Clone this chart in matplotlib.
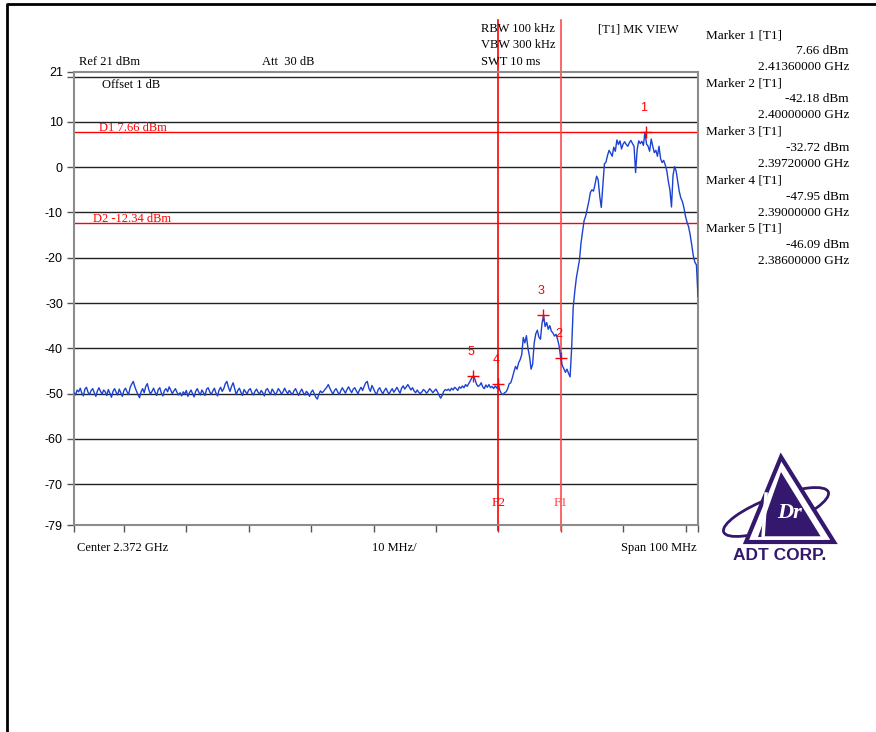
import matplotlib.pyplot as plt
import numpy as np
from matplotlib.patches import Polygon, Ellipse

plt.rcParams['font.family'] = ['Liberation Serif', 'DejaVu Serif']

# sweep settings
center_ghz = 2.372
span_mhz = 100
step_mhz = 0.25
ref_dbm = 21
bottom_dbm = -79

# trace level (dBm), one value every 0.25 MHz from 2.322 GHz
trace_dbm = [
    -49.8, -50.3, -49.2, -49.6, -48.8, -49.9, -50.5, -49.0, -48.6, -49.7, -50.2, -49.3, -48.9, -49.8, -50.6, -49.4, -48.7, -49.5, -50.1, -49.2,
    -49.6, -50.4, -49.1, -49.9, -50.8, -49.5, -48.9, -49.7, -50.3, -49.0, -49.8, -50.6, -49.3, -48.8, -49.6, -50.2, -48.6, -47.9, -47.3, -48.5,
    -49.4, -50.2, -50.9, -49.6, -48.9, -49.8, -48.4, -47.8, -49.2, -50.1, -49.5, -48.8, -49.7, -50.4, -49.1, -48.7, -49.9, -50.5, -49.3, -48.9,
    -49.6, -48.5, -49.2, -50.0, -49.4, -48.9, -49.7, -50.3, -49.8, -50.5, -49.6, -50.1, -49.3, -50.6, -49.8, -49.2, -50.0, -50.7, -49.5, -48.9,
    -49.7, -50.3, -49.2, -49.8, -50.4, -49.0, -48.7, -49.6, -50.2, -49.4, -48.8, -49.9, -50.5, -49.2, -48.6, -49.5, -48.9, -47.8, -47.3, -48.6,
    -49.5, -48.4, -47.6, -48.9, -50.2, -49.3, -48.8, -49.7, -50.4, -49.1, -49.6, -50.0, -49.2, -48.9, -49.8, -50.3, -49.5, -49.0, -49.7, -50.1,
    -49.3, -49.8, -50.5, -49.2, -48.9, -49.6, -50.2, -49.0, -49.5, -50.3, -49.7, -48.9, -49.4, -50.1, -49.6, -48.8, -49.5, -50.0, -49.3, -49.8,
    -50.2, -49.4, -48.9, -49.7, -50.4, -49.6, -49.0, -49.8, -50.3, -49.5, -49.9, -50.6, -49.7, -49.2, -50.0, -50.8, -51.2, -50.1, -49.4, -49.8,
    -49.5, -49.0, -48.6, -48.0, -48.8, -49.5, -50.1, -49.3, -48.9, -49.6, -50.2, -49.4, -48.7, -49.3, -49.9, -49.1, -48.5, -49.2, -49.8, -49.0,
    -48.7, -49.4, -50.0, -49.2, -48.6, -49.3, -48.4, -47.6, -47.3, -48.8, -49.5, -48.2, -48.9, -49.7, -50.2, -49.1, -48.7, -49.5, -50.0, -49.3,
    -48.8, -49.6, -50.1, -49.4, -48.9, -49.7, -49.2, -48.6, -49.3, -49.9, -48.8, -48.3, -49.0, -48.5, -48.0, -48.6, -49.2, -48.7, -49.4, -49.8,
    -49.2, -49.7, -50.0, -49.6, -49.1, -49.4, -49.9, -49.5, -48.9, -49.3, -49.8, -49.4, -49.0, -49.6, -50.3, -51.0, -50.4, -49.5, -49.1, -49.3,
    -49.0, -49.4, -48.8, -49.2, -48.6, -48.9, -49.3, -48.5, -48.8, -48.3, -48.7, -48.0, -48.4, -47.8, -47.2, -46.5, -46.1, -46.8, -47.9, -48.4,
    -48.2, -47.6, -48.5, -48.9, -48.1, -48.6, -48.0, -48.7, -48.4, -48.9, -48.3, -48.8, -47.95, -49.3, -50.0, -50.2, -49.8, -49.6, -48.9, -47.8,
    -47.6, -46.5, -45.2, -44.0, -44.6, -43.2, -42.5, -41.4, -37.6, -38.8, -37.2, -40.0, -41.8, -44.6, -43.5, -38.8, -36.8, -36.0, -37.5, -38.0,
    -34.5, -32.7, -35.2, -34.3, -35.8, -35.0, -36.2, -36.6, -37.3, -36.9, -38.0, -39.5, -42.2, -43.8, -44.5, -45.3, -44.6, -45.5, -46.3, -40.0,
    -31.0, -27.5, -24.5, -22.5, -20.5, -16.8, -14.2, -11.8, -10.8, -9.2, -7.6, -5.6, -5.0, -5.3, -3.8, -2.0, -2.8, -6.4, -8.9, -4.2,
    0.7, 1.1, 2.6, 3.7, 3.1, 2.4, 4.4, 3.5, 6.0, 5.0, 5.8, 4.0, 5.1, 5.6, 5.0, 4.6, 5.4, 5.9, 5.2, 4.6,
    -1.2, 3.9, 5.8, 5.2, 5.7, 4.8, 7.7, 5.1, 4.6, 3.5, 6.2, 4.6, 3.2, 3.7, 2.4, 4.6, 1.9, 1.0, 1.5, 0.5,
    -0.8, -3.2, -5.0, -8.8, -1.8, 0.1, -0.9, -3.1, -5.4, -6.8, -7.6, -9.0, -10.9, -12.2, -13.2, -15.0, -17.2, -19.6, -21.0, -21.6,
    -28.5,
]

# markers
marker_ids = ['1', '2', '3', '4', '5']
marker_ghz = [2.4136, 2.400, 2.3972, 2.390, 2.386]
marker_dbm = [7.66, -42.18, -32.72, -47.95, -46.09]

# display lines
d_dbm = [7.66, -12.34]
d_labels = ['D1 7.66 dBm', 'D2 -12.34 dBm']
f_ghz = [2.390, 2.400]
f_labels = ['F2', 'F1']
f_colors = ['#ff0000', '#ff4a4a']

grid_dbm = [20, 10, 0, -10, -20, -30, -40, -50, -60, -70]
ytick_vals = [21, 20, 10, 0, -10, -20, -30, -40, -50, -60, -70, -79]
ytick_labels = ['21', '', '10', '0', '-10', '-20', '-30', '-40', '-50', '-60', '-70', '-79']
xtick_ghz = [2.322, 2.33, 2.34, 2.35, 2.36, 2.37, 2.38, 2.39, 2.40, 2.41, 2.42, 2.422]

W, H = 876, 732
red = '#ff0000'
purple = '#33186e'

fig = plt.figure(figsize=(W / 100, H / 100), dpi=100)
fig.patch.set_facecolor('white')


def fx(x):
    return x / W


def fy(y):
    return 1 - y / H


ax = fig.add_axes([fx(74), fy(525), (698 - 74) / W, (525 - 72) / H])

start_ghz = center_ghz - span_mhz / 2000
freq_ghz = start_ghz + np.arange(len(trace_dbm)) * step_mhz / 1000

for g in grid_dbm:
    ax.axhline(g, color='#222222', lw=1, zorder=1)

for d, lab, xo in zip(d_dbm, d_labels, [0.04, 0.03]):
    ax.axhline(d, color=red, lw=1, zorder=2)
    ax.annotate(lab, xy=(xo, d), xycoords=('axes fraction', 'data'),
                xytext=(0, 1), textcoords='offset pixels',
                color=red, fontsize=9, va='baseline')

for f, lab, c in zip(f_ghz, f_labels, f_colors):
    ax.plot([f, f], [32.4, -80.2], color=c, lw=1.2, clip_on=False, zorder=2)
    ax.annotate(lab, xy=(f, bottom_dbm), xytext=(0, 22), textcoords='offset pixels',
                color=c, fontsize=9.5, ha='center', va='center')

ax.plot(freq_ghz, trace_dbm, color='#1c42d0', lw=1, zorder=3)

ax.plot(marker_ghz, marker_dbm, '+', color=red, ms=9, mew=1, zorder=4)
for mid, g, d in zip(marker_ids, marker_ghz, marker_dbm):
    ax.annotate(mid, xy=(g, d), xytext=(-2, 24), textcoords='offset pixels',
                color=red, fontsize=9, ha='center', va='center',
                family=['Liberation Sans', 'DejaVu Sans'])

ax.text((102 - 74) / 624, 1 - (85 - 72) / 453, 'Offset 1 dB',
        transform=ax.transAxes, fontsize=9, va='center')

ax.set_xlim(start_ghz, start_ghz + span_mhz / 1000)
ax.set_ylim(bottom_dbm, ref_dbm)
ax.set_xticks(xtick_ghz)
ax.set_xticklabels([])
ax.set_yticks(ytick_vals)
ax.set_yticklabels(ytick_labels, family=['Liberation Sans', 'DejaVu Sans'])
ax.tick_params(direction='out', length=5, width=1, color='#555555',
               labelsize=9, pad=3)
for s in ax.spines.values():
    s.set_color('#8c8c8c')
    s.set_linewidth(1.5)

# header texts
fig.text(fx(79), fy(62), 'Ref 21 dBm', fontsize=9, va='center')
fig.text(fx(262), fy(62), 'Att  30 dB', fontsize=9, va='center')
fig.text(fx(481), fy(29), 'RBW 100 kHz', fontsize=9, va='center')
fig.text(fx(481), fy(45), 'VBW 300 kHz', fontsize=9, va='center')
fig.text(fx(481), fy(62), 'SWT 10 ms', fontsize=9, va='center')
fig.text(fx(598), fy(29), '[T1] MK VIEW', fontsize=9, va='center')

# footer texts
fig.text(fx(77), fy(548), 'Center 2.372 GHz', fontsize=9, va='center')
fig.text(fx(394), fy(548), '10 MHz/', fontsize=9, va='center', ha='center')
fig.text(fx(697), fy(548), 'Span 100 MHz', fontsize=9, va='center', ha='right')

# marker table
for i, (mid, g, d) in enumerate(zip(marker_ids, marker_ghz, marker_dbm)):
    y0 = 35 + i * 48.5
    fig.text(fx(706), fy(y0), 'Marker %s [T1]' % mid, fontsize=9.5, va='center')
    fig.text(fx(849), fy(y0 + 16), '%.2f dBm' % d, fontsize=9.5, va='center', ha='right')
    fig.text(fx(849), fy(y0 + 32), '%.8f GHz' % g, fontsize=9.5, va='center', ha='right')

# overlay in pixel coords: page border and logo
ov = fig.add_axes([0, 0, 1, 1], zorder=-1)
ov.set_xlim(0, W)
ov.set_ylim(H, 0)
ov.axis('off')
ov.plot([7, 7, W], [H, 4, 4], color='black', lw=2)

ov.add_patch(Ellipse((776, 512), 112, 30, angle=-21, fill=False,
                     edgecolor=purple, lw=2))
ov.add_patch(Polygon([(781, 457), (834, 542), (746, 542)], closed=True,
                     facecolor='white', edgecolor=purple, lw=3))
ov.add_patch(Polygon([(781, 472), (821, 537), (758, 537)], closed=True,
                     facecolor=purple, edgecolor='none'))
ov.plot([766, 763, 822], [494, 538, 538], color='white', lw=2.5)
ov.text(790, 513, 'Dr', color='white', fontsize=16, fontweight='bold',
        style='italic', ha='center', va='center', family=['Liberation Serif'])
ov.text(780, 555, 'ADT CORP.', color=purple, fontsize=12.5, fontweight='bold',
        ha='center', va='center', family=['Liberation Sans', 'DejaVu Sans'])

fig.savefig('out.png', dpi=100)
